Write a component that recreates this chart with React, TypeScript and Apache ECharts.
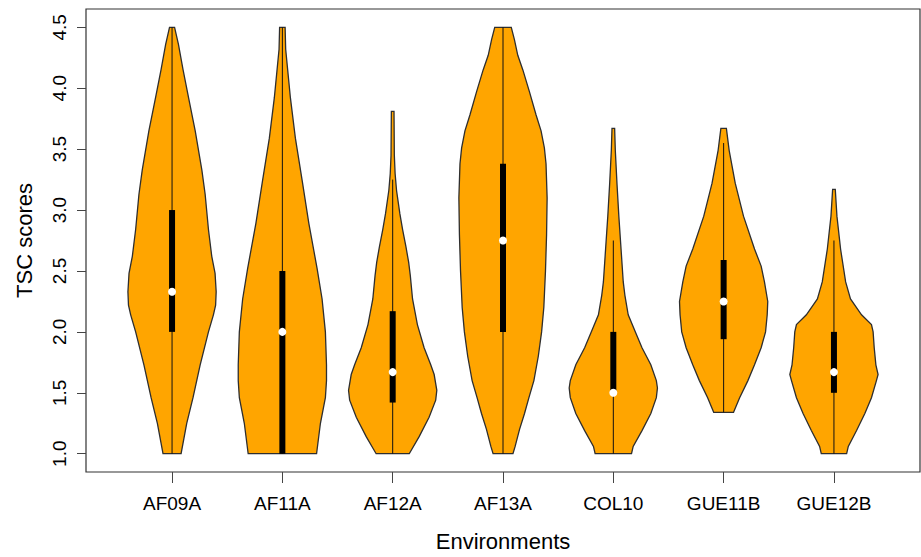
import React, { useEffect, useRef } from "react";
import * as echarts from "echarts";

const categories = ["AF09A", "AF11A", "AF12A", "AF13A", "COL10", "GUE11B", "GUE12B"];
const yTicks = [1.0, 1.5, 2.0, 2.5, 3.0, 3.5, 4.0, 4.5];

// violin outlines: [score, half-width (in category units)]
const af09aShape = [[1.0, 0.082], [1.25, 0.133], [1.46, 0.19], [1.73, 0.255], [2.0, 0.33], [2.14, 0.375], [2.22, 0.395], [2.33, 0.4], [2.48, 0.39], [2.62, 0.36], [2.84, 0.33], [3.13, 0.3], [3.33, 0.27], [3.65, 0.21], [3.92, 0.15], [4.15, 0.1], [4.36, 0.058], [4.5, 0.023]];
const af11aShape = [[1.0, 0.31], [1.25, 0.345], [1.46, 0.39], [1.6, 0.4], [1.73, 0.4], [2.0, 0.39], [2.27, 0.36], [2.52, 0.315], [2.89, 0.24], [3.24, 0.18], [3.59, 0.118], [3.92, 0.073], [4.32, 0.03], [4.5, 0.025]];
const af12aShape = [[1.0, 0.15], [1.14, 0.24], [1.3, 0.33], [1.44, 0.39], [1.52, 0.4], [1.65, 0.376], [1.73, 0.345], [1.87, 0.285], [2.06, 0.224], [2.27, 0.18], [2.46, 0.16], [2.57, 0.145], [2.7, 0.12], [2.84, 0.09], [2.97, 0.065], [3.16, 0.035], [3.3, 0.022], [3.45, 0.015], [3.81, 0.012]];
const af13aShape = [[1.0, 0.09], [1.06, 0.11], [1.2, 0.15], [1.33, 0.195], [1.46, 0.235], [1.6, 0.28], [1.8, 0.32], [2.0, 0.35], [2.2, 0.37], [2.5, 0.385], [2.8, 0.395], [3.1, 0.4], [3.38, 0.39], [3.51, 0.375], [3.65, 0.345], [3.78, 0.3], [3.97, 0.24], [4.15, 0.18], [4.27, 0.134], [4.4, 0.103], [4.5, 0.075]];
const col10Shape = [[1.0, 0.165], [1.06, 0.18], [1.19, 0.26], [1.33, 0.34], [1.46, 0.39], [1.54, 0.4], [1.6, 0.39], [1.73, 0.34], [1.87, 0.26], [2.0, 0.2], [2.14, 0.135], [2.3, 0.105], [2.41, 0.09], [2.68, 0.07], [2.95, 0.05], [3.22, 0.033], [3.49, 0.018], [3.67, 0.012]];
const gue11bShape = [[1.34, 0.09], [1.46, 0.145], [1.6, 0.22], [1.73, 0.28], [1.87, 0.34], [2.0, 0.38], [2.14, 0.395], [2.25, 0.4], [2.41, 0.37], [2.54, 0.34], [2.68, 0.28], [2.95, 0.18], [3.22, 0.105], [3.49, 0.05], [3.67, 0.025]];
const gue12bShape = [[1.0, 0.115], [1.06, 0.13], [1.19, 0.205], [1.33, 0.28], [1.46, 0.34], [1.6, 0.385], [1.65, 0.4], [1.73, 0.38], [1.87, 0.365], [2.0, 0.355], [2.06, 0.34], [2.14, 0.25], [2.27, 0.15], [2.41, 0.106], [2.68, 0.06], [2.95, 0.027], [3.17, 0.012]];

const lowerWhiskers = [1.0, 1.0, 1.0, 1.0, 1.0, 1.34, 1.0];
const q1s = [2.0, 1.0, 1.42, 2.0, 1.5, 1.94, 1.5];
const medians = [2.33, 2.0, 1.67, 2.75, 1.5, 2.25, 1.67];
const q3s = [3.0, 2.5, 2.17, 3.38, 2.0, 2.59, 2.0];
const upperWhiskers = [4.5, 4.5, 3.25, 4.5, 2.75, 3.55, 2.75];

const shapes = [af09aShape, af11aShape, af12aShape, af13aShape, col10Shape, gue11bShape, gue12bShape];

const FONT = "'Liberation Sans', Arial, Helvetica, sans-serif";

export default function App() {
  const ref = useRef<HTMLDivElement>(null);

  useEffect(() => {
    if (!ref.current) return;
    const chart = echarts.init(ref.current, null, { renderer: "svg" });
    const xPositions = categories.map((_, i) => i + 1);

    const option = {
      animation: false,
      backgroundColor: "#ffffff",
      grid: {
        show: true,
        left: 86,
        top: 9,
        right: 1,
        bottom: 78,
        borderColor: "#333333",
        borderWidth: 1.2,
        backgroundColor: "transparent",
      },
      xAxis: {
        type: "value",
        min: 0.22,
        max: 7.78,
        axisLine: { show: false },
        splitLine: { show: false },
        axisTick: {
          show: true,
          customValues: xPositions,
          length: 11,
          lineStyle: { color: "#444444", width: 1 },
        },
        axisLabel: {
          customValues: xPositions,
          formatter: (v: number) => categories[Math.round(v) - 1] ?? "",
          fontSize: 19,
          fontFamily: FONT,
          color: "#000000",
          margin: 22,
        },
        name: "Environments",
        nameLocation: "middle",
        nameGap: 58,
        nameTextStyle: { fontSize: 22, fontFamily: FONT, color: "#000000" },
      },
      yAxis: {
        type: "value",
        min: 0.85,
        max: 4.65,
        axisLine: { show: false },
        splitLine: { show: false },
        axisTick: {
          show: true,
          customValues: yTicks,
          length: 9,
          lineStyle: { color: "#444444", width: 1 },
        },
        axisLabel: {
          customValues: yTicks,
          rotate: 90,
          formatter: (v: number) => v.toFixed(1),
          fontSize: 19,
          fontFamily: FONT,
          color: "#000000",
          margin: 17,
        },
        name: "TSC scores",
        nameLocation: "middle",
        nameGap: 51,
        nameTextStyle: { fontSize: 22, fontFamily: FONT, color: "#000000" },
      },
      series: [
        {
          type: "custom",
          clip: false,
          data: categories.map((_, i) => [i + 1, medians[i]]),
          renderItem: (params: any, api: any) => {
            const x = api.value(0);
            const i = Math.round(x) - 1;
            const shape = shapes[i];
            const right = shape.map(([v, w]) => api.coord([x + w, v]));
            const left = shape
              .slice()
              .reverse()
              .map(([v, w]) => api.coord([x - w, v]));
            const pts = right.concat(left);
            const [cx, yLow] = api.coord([x, lowerWhiskers[i]]);
            const yHigh = api.coord([x, upperWhiskers[i]])[1];
            const yq1 = api.coord([x, q1s[i]])[1];
            const yq3 = api.coord([x, q3s[i]])[1];
            const ymed = api.coord([x, medians[i]])[1];
            return {
              type: "group",
              children: [
                {
                  type: "polygon",
                  shape: { points: pts },
                  style: { fill: "#FFA500", stroke: "#2e2e2e", lineWidth: 1.3 },
                },
                {
                  type: "line",
                  shape: { x1: cx, y1: yLow, x2: cx, y2: yHigh },
                  style: { stroke: "#111111", lineWidth: 1 },
                },
                {
                  type: "rect",
                  shape: { x: cx - 3, y: yq3, width: 6, height: yq1 - yq3 },
                  style: { fill: "#000000" },
                },
                {
                  type: "circle",
                  shape: { cx: cx, cy: ymed, r: 4 },
                  style: { fill: "#ffffff" },
                },
              ],
            };
          },
        },
      ],
    };

    chart.setOption(option as any);
    return () => chart.dispose();
  }, []);

  return (
    <div
      ref={ref}
      style={{ position: "fixed", left: 0, top: 0, width: 921, height: 557, background: "#fff" }}
    />
  );
}
